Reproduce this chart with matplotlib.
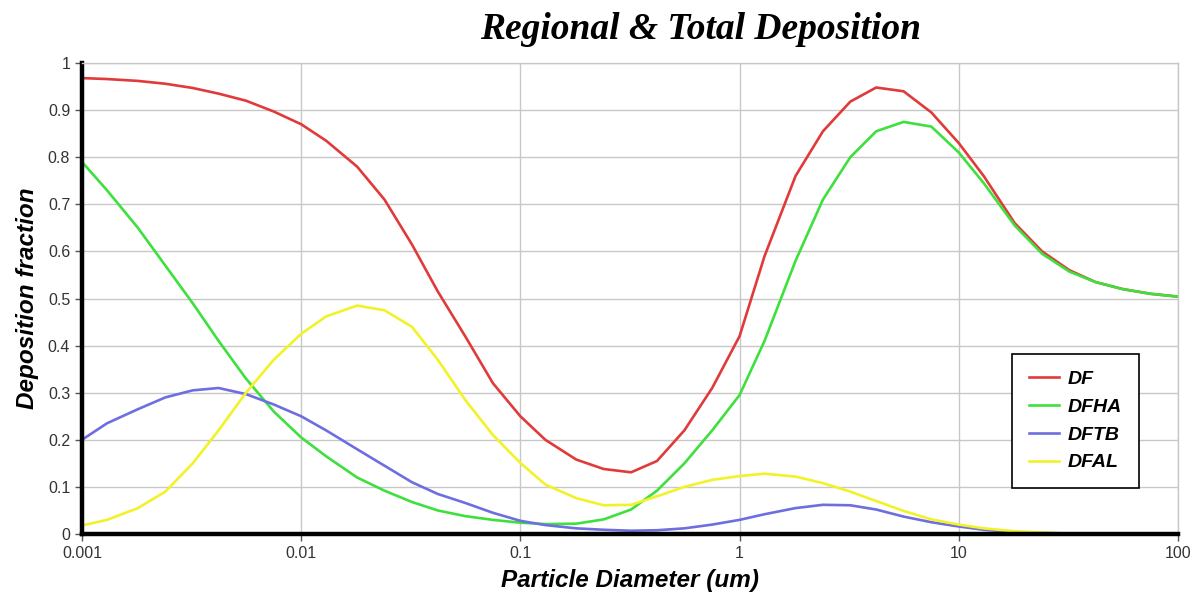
import numpy as np
import matplotlib.pyplot as plt

# particle diameter (um) and deposition fractions
diam = [0.001, 0.0013, 0.0018, 0.0024, 0.0032, 0.0042, 0.0056, 0.0075,
        0.01, 0.013, 0.018, 0.024, 0.032, 0.042, 0.056, 0.075,
        0.1, 0.13, 0.18, 0.24, 0.32, 0.42, 0.56, 0.75,
        1, 1.3, 1.8, 2.4, 3.2, 4.2, 5.6, 7.5,
        10, 13, 18, 24, 32, 42, 56, 75, 100]

df = [0.968, 0.966, 0.962, 0.956, 0.947, 0.935, 0.92, 0.897,
      0.87, 0.835, 0.78, 0.71, 0.615, 0.515, 0.42, 0.32,
      0.25, 0.20, 0.158, 0.138, 0.131, 0.155, 0.22, 0.31,
      0.42, 0.59, 0.76, 0.855, 0.918, 0.948, 0.94, 0.895,
      0.83, 0.76, 0.66, 0.60, 0.56, 0.535, 0.52, 0.51, 0.504]

dfha = [0.79, 0.73, 0.65, 0.57, 0.49, 0.41, 0.33, 0.26,
        0.205, 0.165, 0.12, 0.092, 0.068, 0.05, 0.038, 0.03,
        0.024, 0.021, 0.022, 0.031, 0.052, 0.092, 0.15, 0.22,
        0.295, 0.41, 0.58, 0.71, 0.80, 0.855, 0.875, 0.865,
        0.81, 0.745, 0.655, 0.595, 0.557, 0.535, 0.52, 0.51, 0.504]

dftb = [0.20, 0.235, 0.265, 0.29, 0.305, 0.31, 0.297, 0.275,
        0.25, 0.22, 0.18, 0.145, 0.11, 0.085, 0.066, 0.045,
        0.028, 0.019, 0.012, 0.009, 0.007, 0.008, 0.012, 0.02,
        0.03, 0.042, 0.055, 0.062, 0.061, 0.052, 0.037, 0.025,
        0.016, 0.009, 0.004, 0.002, 0.001, 0.0, 0.0, 0.0, 0.0]

dfal = [0.018, 0.03, 0.055, 0.09, 0.15, 0.22, 0.30, 0.37,
        0.425, 0.462, 0.485, 0.475, 0.44, 0.37, 0.285, 0.21,
        0.151, 0.105, 0.076, 0.061, 0.062, 0.08, 0.10, 0.115,
        0.123, 0.128, 0.122, 0.108, 0.09, 0.07, 0.049, 0.031,
        0.02, 0.012, 0.006, 0.003, 0.001, 0.0, 0.0, 0.0, 0.0]

series = [("DF", df, "#e03a3a"), ("DFHA", dfha, "#3ee03e"),
          ("DFTB", dftb, "#6e6ee0"), ("DFAL", dfal, "#f2f22a")]

xticks = [0.001, 0.01, 0.1, 1, 10, 100]
xticklabels = ["0.001", "0.01", "0.1", "1", "10", "100"]
yticks = np.round(np.arange(0, 1.01, 0.1), 1)
yticklabels = ["0"] + ["%.1f" % v for v in yticks[1:-1]] + ["1"]

fig = plt.figure(figsize=(11.93, 5.99), dpi=100)
ax = fig.add_axes([0.0687, 0.1085, 0.9187, 0.7863])

for name, vals, col in series:
    ax.plot(diam, vals, color=col, lw=1.9, label=name,
            solid_joinstyle="round")

ax.set_xscale("log")
ax.set_xlim(0.001, 100)
ax.set_ylim(0, 1)
ax.set_xticks(xticks)
ax.set_xticklabels(xticklabels)
ax.set_yticks(yticks)
ax.set_yticklabels(yticklabels)
ax.minorticks_off()
ax.grid(True, color="#c8c8c8", lw=1)
ax.set_axisbelow(True)

for s in ["top", "right"]:
    ax.spines[s].set_color("#c8c8c8")
    ax.spines[s].set_linewidth(1)
for s in ["left", "bottom"]:
    ax.spines[s].set_color("black")
    ax.spines[s].set_linewidth(3.2)
ax.tick_params(axis="both", direction="out", length=5, width=1,
               labelsize=11.5, labelcolor="#333333", color="#555555")
for lab in ax.get_xticklabels() + ax.get_yticklabels():
    lab.set_family("Liberation Sans")

ax.set_xlabel("Particle Diameter (um)", fontsize=17.5, fontweight="bold",
              fontstyle="italic", family="Liberation Sans", labelpad=6)
ax.set_ylabel("Deposition fraction", fontsize=17.5, fontweight="bold",
              fontstyle="italic", family="Liberation Sans", labelpad=6)

fig.text(0.587, 0.95, "Regional & Total Deposition", ha="center", va="center",
         fontsize=27, fontweight="bold", fontstyle="italic",
         family="Liberation Serif")

leg = ax.legend(loc="upper left", bbox_to_anchor=(0.849, 0.382),
                borderaxespad=0, fancybox=False, framealpha=1,
                edgecolor="black", handlelength=1.55, handletextpad=0.45,
                labelspacing=0.52, borderpad=0.85,
                prop={"family": "Liberation Sans", "weight": "bold",
                      "style": "italic", "size": 14})
leg.get_frame().set_linewidth(1.2)
leg.set_zorder(5)

fig.savefig("out.png", dpi=100)
